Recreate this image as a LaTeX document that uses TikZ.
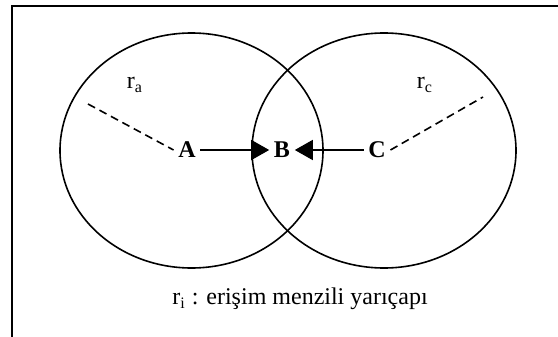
\documentclass[tikz,border=0pt]{standalone}
\usepackage{fontspec}
\setmainfont{Liberation Serif}
\usepackage{tikz}
\usetikzlibrary{arrows.meta, calc}

\tikzset{
	lbl/.style={font=\fontsize{12}{14}\selectfont, inner sep=2pt},
	pnt/.style={lbl, font=\fontsize{12}{14}\selectfont\bfseries},
	tip/.style={-{Triangle[length=9pt,width=10pt]}},
	rad/.style={dash pattern=on 4pt off 2.5pt},
}

\begin{document}
\begin{tikzpicture}[x=0.5pt, y=-0.5pt, line width=0.8pt]
	\useasboundingbox (0,0) rectangle (558,337);
	\draw[line width=1pt] (12,337) -- (12,6) -- (558,6);
	\draw (191.5,150.5) ellipse [x radius=65.75pt, y radius=58.75pt];
	\draw (384,150.5) ellipse [x radius=66pt, y radius=58.75pt];
	\node[pnt] (A) at (187,150) {A};
	\node[pnt] (B) at (282,150) {B};
	\node[pnt] (C) at (377,150) {C};
	\node[lbl] (ra) at (135,85) {r\textsubscript{a}};
	\node[lbl] (rc) at (425,85) {r\textsubscript{c}};
	\node[lbl] (cap) at (300,299) {r\textsubscript{i} : erişim menzili yarıçapı};
	\coordinate (ea) at (88,104);
	\coordinate (ec) at (483,97);
	\draw[rad] (ea) -- (A.west);
	\draw[rad] (C.east) -- (ec);
	\draw[tip] (A) -- (B);
	\draw[tip] (C) -- (B);
\end{tikzpicture}
\end{document}
